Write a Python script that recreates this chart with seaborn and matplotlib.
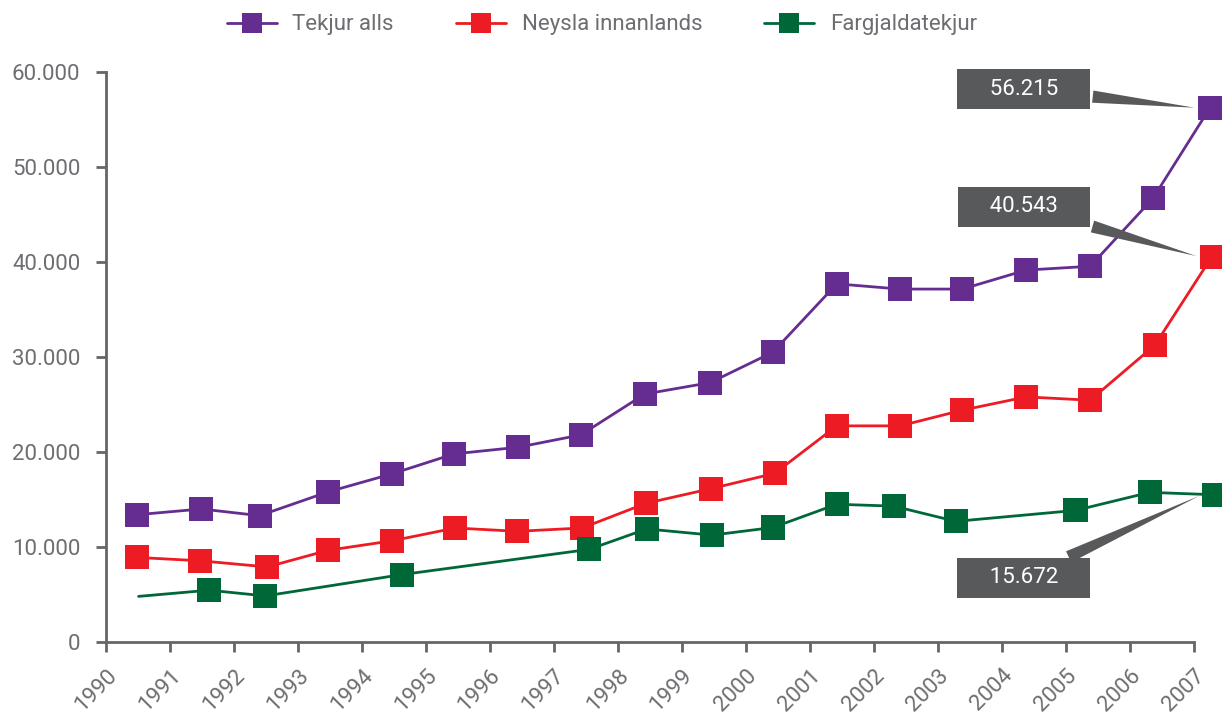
import matplotlib
matplotlib.use("Agg")
import matplotlib.pyplot as plt
from matplotlib.lines import Line2D
from matplotlib.ticker import FuncFormatter
import numpy as np
import pandas as pd
import seaborn as sns

# Tekjur alls
tekjur_x = [1990.49, 1991.49, 1992.40, 1993.47, 1994.47, 1995.44, 1996.44, 1997.42, 1998.42,
            1999.44, 2000.42, 2001.42, 2002.41, 2003.38, 2004.38, 2005.38, 2006.36, 2007.25]
tekjur_y = [13400, 14000, 13300, 15800, 17700, 19800, 20500, 21800, 26100,
            27300, 30500, 37700, 37150, 37150, 39150, 39550, 46700, 56215]

# Neysla innanlands
neysla_x = [1990.49, 1991.47, 1992.52, 1993.47, 1994.47, 1995.46, 1996.43, 1997.44, 1998.44,
            1999.46, 2000.45, 2001.42, 2002.41, 2003.38, 2004.38, 2005.38, 2006.39, 2007.28]
neysla_y = [8900, 8550, 7900, 9650, 10650, 12000, 11650, 12000, 14600,
            16150, 17750, 22750, 22750, 24400, 25800, 25450, 31250, 40543]

# Fargjaldatekjur (fyrsti punkturinn án merkis)
fargjald_x = [1990.51, 1991.61, 1992.49, 1994.63, 1997.55, 1998.45, 1999.47, 2000.42,
              2001.42, 2002.31, 2003.28, 2005.15, 2006.31, 2007.32]
fargjald_y = [4800, 5450, 4850, 7100, 9750, 11900, 11250, 12050,
              14500, 14300, 12700, 13850, 15750, 15500]
fargjald_merki = [False] + [True] * 13

series_names = ["Tekjur alls", "Neysla innanlands", "Fargjaldatekjur"]
colors = ["#662d91", "#ed1c24", "#006838"]
year_ticks = list(range(1990, 2008))
callouts = ["56.215", "40.543", "15.672"]

rows = []
for x, y in zip(tekjur_x, tekjur_y):
    rows.append((series_names[0], x, y, True))
for x, y in zip(neysla_x, neysla_y):
    rows.append((series_names[1], x, y, True))
for x, y, m in zip(fargjald_x, fargjald_y, fargjald_merki):
    rows.append((series_names[2], x, y, m))
df = pd.DataFrame(rows, columns=["rod", "ar", "upphaed", "merki"])

sns.set_style("ticks")
plt.rcParams["font.family"] = ["Roboto", "DejaVu Sans"]
gray = "#6d6e71"
box_gray = "#58595b"

fig = plt.figure(figsize=(12.22, 7.13), dpi=100)
ax = fig.add_axes([0.0867, 0.0996, 0.8903, 0.7994])

palette = dict(zip(series_names, colors))
sns.lineplot(data=df, x="ar", y="upphaed", hue="rod", palette=palette,
             linewidth=2.0, legend=False, ax=ax, estimator=None, sort=True)
sns.scatterplot(data=df[df["merki"]], x="ar", y="upphaed", hue="rod", palette=palette,
                marker="s", s=300, linewidth=0, legend=False, ax=ax, zorder=3)
for art in ax.lines + ax.collections:
    art.set_clip_on(False)

ax.set_xlim(1990, 2007)
ax.set_ylim(0, 60000)
ax.set_xticks(year_ticks)
ax.set_xticklabels([str(y) for y in year_ticks], rotation=45, ha="right", va="top",
                   rotation_mode="anchor")
ax.set_yticks(np.arange(0, 60001, 10000))
ax.yaxis.set_major_formatter(FuncFormatter(lambda v, p: f"{int(v):,}".replace(",", ".")))
ax.set_xlabel("")
ax.set_ylabel("")
for s in ["top", "right"]:
    ax.spines[s].set_visible(False)
for s in ["left", "bottom"]:
    ax.spines[s].set_color("#666666")
    ax.spines[s].set_linewidth(2)
ax.tick_params(axis="both", colors="#666666", width=2, length=7.5, labelsize=16,
               labelcolor=gray)
ax.tick_params(axis="x", pad=9)
ax.tick_params(axis="y", pad=11)

# Merkimiðar við síðustu gildin
ends = [(tekjur_x[-1], tekjur_y[-1]), (neysla_x[-1], neysla_y[-1]),
        (fargjald_x[-1], fargjald_y[-1])]
box_pos = [(2004.34, 58200), (2004.34, 45800), (2004.34, 6750)]
for txt, (px, py), (bx, by) in zip(callouts, ends, box_pos):
    ax.annotate("\u2002\u2002" + txt + "\u2002\u2002", xy=(px - 0.2, py), xytext=(bx, by),
                textcoords="data", ha="center", va="center", fontsize=16, color="white",
                bbox=dict(boxstyle="square,pad=0.42", fc=box_gray, ec="none"),
                arrowprops=dict(arrowstyle="wedge,tail_width=0.55,shrink_factor=0.5",
                                fc=box_gray, ec="none"),
                annotation_clip=False, zorder=5)

handles = [Line2D([0], [0], color=c, lw=2, marker="s", markersize=14, markeredgewidth=0)
           for c in colors]
fig.legend(handles, series_names, loc="upper center", bbox_to_anchor=(0.4926, 1.008),
           ncol=3, frameon=False, fontsize=16, labelcolor=gray, handlelength=2.25,
           columnspacing=2.8, handletextpad=0.7)

fig.savefig("out.png", dpi=100)
